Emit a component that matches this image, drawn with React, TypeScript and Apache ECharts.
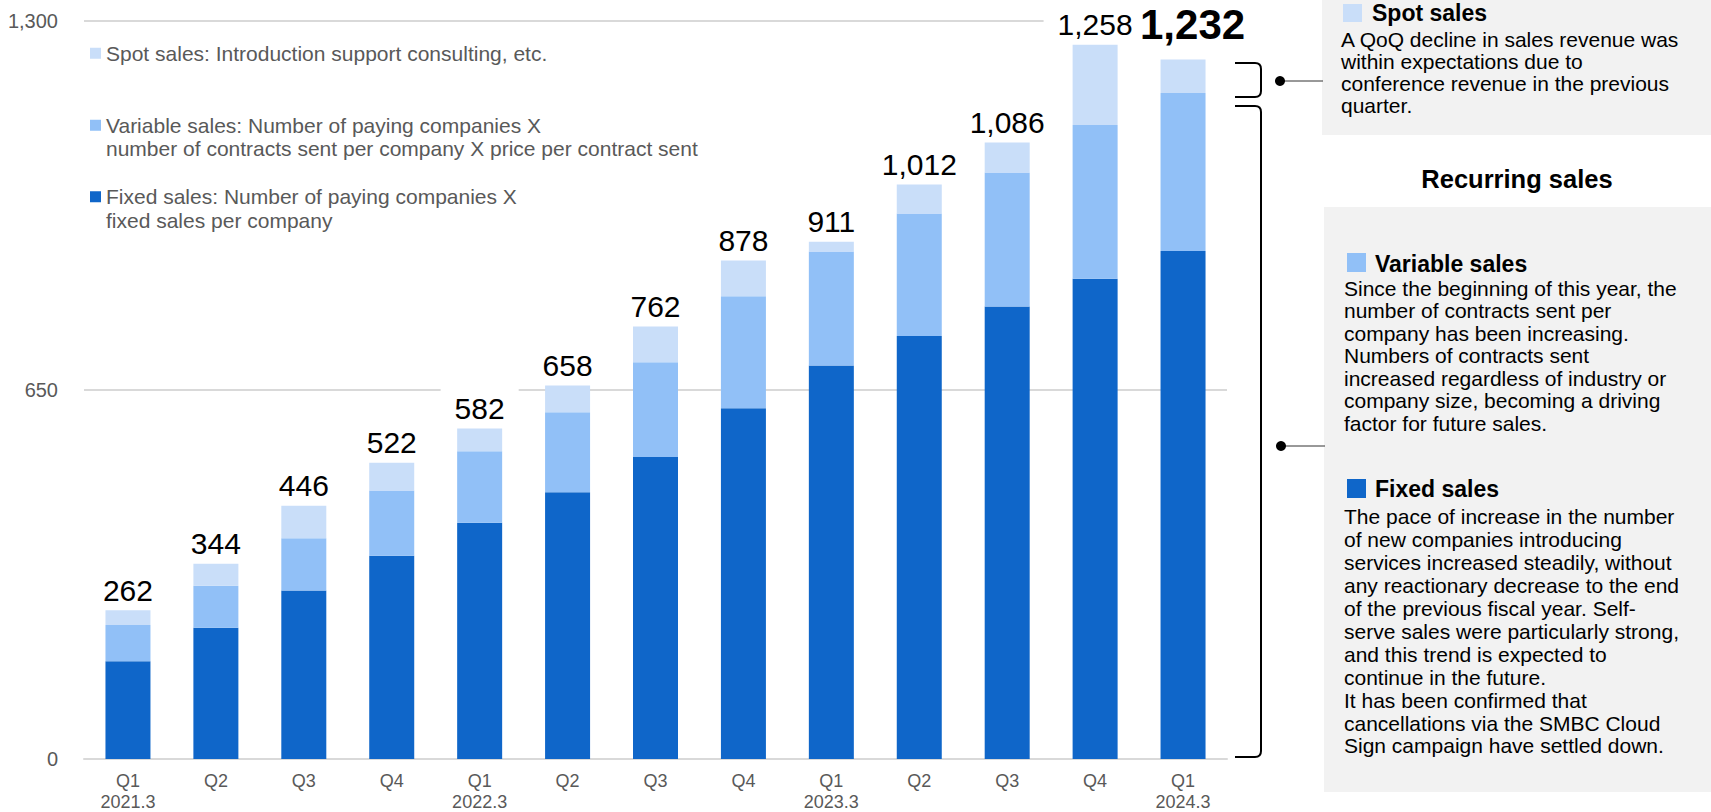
import React, { useEffect, useRef } from "react";
import * as echarts from "echarts";

const categories = ["Q1\n2021.3", "Q2", "Q3", "Q4", "Q1\n2022.3", "Q2", "Q3", "Q4", "Q1\n2023.3", "Q2", "Q3", "Q4", "Q1\n2024.3"];
const fixedSales = [172, 231, 297, 358, 416, 470, 532, 618, 693, 745, 797, 846, 895];
const variableSales = [64, 74, 92, 115, 126, 141, 167, 197, 201, 216, 236, 271, 278];
const spotSales = [26, 39, 57, 49, 40, 47, 63, 63, 17, 51, 53, 141, 59];
const totals = [262, 344, 446, 522, 582, 658, 762, 878, 911, 1012, 1086, 1258, 1232];
const yMin = 0;
const yMax = 1300;
const yInterval = 650;

const seriesNames = ["Fixed sales", "Variable sales", "Spot sales"];
const legendLines = [
  ["Spot sales: Introduction support consulting, etc."],
  ["Variable sales: Number of paying companies X", "number of contracts sent per company X price per contract sent"],
  ["Fixed sales: Number of paying companies X", "fixed sales per company"],
];
const spotNote = ["A QoQ decline in sales revenue was", "within expectations due to", "conference revenue in the previous", "quarter."];
const recurringTitle = "Recurring sales";
const variableNote = [
  "Since the beginning of this year, the",
  "number of contracts sent per",
  "company has been increasing.",
  "Numbers of contracts sent",
  "increased regardless of industry or",
  "company size, becoming a driving",
  "factor for future sales.",
];
const fixedNote = [
  "The pace of increase in the number",
  "of new companies introducing",
  "services increased steadily, without",
  "any reactionary decrease to the end",
  "of the previous fiscal year. Self-",
  "serve sales were particularly strong,",
  "and this trend is expected to",
  "continue in the future.",
  "It has been confirmed that",
  "cancellations via the SMBC Cloud",
  "Sign campaign have settled down.",
];

const C_FIXED = "#0F66C9";
const C_VAR = "#91C0F7";
const C_SPOT = "#C9DEF9";
const FONT = "'Liberation Sans', Arial, Helvetica, sans-serif";

let registered = false;
function registerShapes() {
  if (registered) return;
  registered = true;
  echarts.graphic.registerShape(
    "bracketSpot",
    echarts.graphic.extendPath("M1235,63 L1255,63 Q1261,63 1261,69 L1261,91 Q1261,97 1255,97 L1235,97", {})
  );
  echarts.graphic.registerShape(
    "bracketRecur",
    echarts.graphic.extendPath("M1235,106 L1255,106 Q1261,106 1261,112 L1261,751 Q1261,757 1255,757 L1235,757", {})
  );
}

export default function App() {
  const ref = useRef<HTMLDivElement>(null);

  useEffect(() => {
    if (!ref.current) return;
    registerShapes();
    const chart = echarts.init(ref.current, null, { renderer: "svg" });

    const labelBase = {
      show: true,
      position: "top",
      distance: 5,
      fontSize: 30,
      color: "#000",
      fontFamily: FONT,
      backgroundColor: "#fff",
      padding: [5, 14, 0, 14],
      formatter: (p: any) => totals[p.dataIndex].toLocaleString("en-US"),
    };

    const spotData = spotSales.map((v, i) =>
      i === spotSales.length - 1
        ? {
            value: v,
            label: { fontSize: 42, fontWeight: "bold", distance: 14, offset: [18, 0], padding: [5, 17, 0, 0] },
          }
        : v
    );

    const legendColors = [C_SPOT, C_VAR, C_FIXED];
    const legendTops = [41.25, 113.25, 184.75];
    const legendGraphics: any[] = [];
    legendLines.forEach((lines, i) => {
      legendGraphics.push({
        type: "rect",
        shape: { x: 90, y: legendTops[i] + 6.5, width: 11, height: 11 },
        style: { fill: legendColors[i] },
      });
      legendGraphics.push({
        type: "text",
        x: 106,
        y: legendTops[i],
        style: {
          text: lines.join("\n"),
          fill: "#595959",
          fontSize: 21,
          fontFamily: FONT,
          lineHeight: 23.5,
          verticalAlign: "top",
          align: "left",
        },
      });
    });

    const noteGraphics: any[] = [
      { type: "rect", shape: { x: 1322, y: 0, width: 389, height: 135 }, style: { fill: "#F2F2F2" } },
      { type: "rect", shape: { x: 1324, y: 207, width: 387, height: 585 }, style: { fill: "#F2F2F2" } },
      // spot heading
      { type: "rect", shape: { x: 1343, y: 4, width: 19, height: 18 }, style: { fill: C_SPOT } },
      {
        type: "text", x: 1372, y: 13,
        style: { text: seriesNames[2], fill: "#000", fontSize: 23, fontWeight: "bold", fontFamily: FONT, verticalAlign: "middle" },
      },
      {
        type: "text", x: 1341, y: 28,
        style: { text: spotNote.join("\n"), fill: "#000", fontSize: 21, fontFamily: FONT, lineHeight: 22, verticalAlign: "top" },
      },
      {
        type: "text", x: 1517, y: 179,
        style: { text: recurringTitle, fill: "#000", fontSize: 25.5, fontWeight: "bold", fontFamily: FONT, align: "center", verticalAlign: "middle" },
      },
      // variable heading
      { type: "rect", shape: { x: 1347, y: 253, width: 19, height: 19 }, style: { fill: C_VAR } },
      {
        type: "text", x: 1375, y: 263.5,
        style: { text: seriesNames[1], fill: "#000", fontSize: 23, fontWeight: "bold", fontFamily: FONT, verticalAlign: "middle" },
      },
      {
        type: "text", x: 1344, y: 276.75,
        style: { text: variableNote.join("\n"), fill: "#000", fontSize: 21, fontFamily: FONT, lineHeight: 22.5, verticalAlign: "top" },
      },
      // fixed heading
      { type: "rect", shape: { x: 1347, y: 479, width: 19, height: 19 }, style: { fill: C_FIXED } },
      {
        type: "text", x: 1375, y: 489,
        style: { text: seriesNames[0], fill: "#000", fontSize: 23, fontWeight: "bold", fontFamily: FONT, verticalAlign: "middle" },
      },
      {
        type: "text", x: 1344, y: 505.5,
        style: { text: fixedNote.join("\n"), fill: "#000", fontSize: 21, fontFamily: FONT, lineHeight: 22.9, verticalAlign: "top" },
      },
      // brackets and connectors
      { type: "bracketSpot", style: { fill: "none", stroke: "#000", lineWidth: 2 } },
      { type: "bracketRecur", style: { fill: "none", stroke: "#000", lineWidth: 2 } },
      { type: "line", shape: { x1: 1280, y1: 81, x2: 1323, y2: 81 }, style: { stroke: "#333", lineWidth: 1 } },
      { type: "circle", shape: { cx: 1280, cy: 81, r: 5 }, style: { fill: "#000" } },
      { type: "line", shape: { x1: 1281, y1: 446, x2: 1325, y2: 446 }, style: { stroke: "#333", lineWidth: 1 } },
      { type: "circle", shape: { cx: 1281, cy: 446, r: 5 }, style: { fill: "#000" } },
    ];

    chart.setOption({
      animation: false,
      backgroundColor: "#fff",
      textStyle: { fontFamily: FONT },
      grid: { left: 84, right: 484, top: 21, bottom: 52, containLabel: false },
      xAxis: {
        type: "category",
        data: categories,
        axisTick: { show: false },
        axisLine: { show: true, lineStyle: { color: "#D9D9D9", width: 2 } },
        axisLabel: { color: "#595959", fontSize: 18, fontFamily: FONT, lineHeight: 21, margin: 11, interval: 0 },
      },
      yAxis: {
        type: "value",
        min: yMin,
        max: yMax,
        interval: yInterval,
        axisLine: { show: false },
        axisTick: { show: false },
        splitLine: { lineStyle: { color: "#D9D9D9", width: 2 } },
        axisLabel: {
          color: "#595959",
          fontSize: 20,
          fontFamily: FONT,
          margin: 26,
          formatter: (v: number) => v.toLocaleString("en-US"),
        },
      },
      series: [
        { name: seriesNames[0], type: "bar", stack: "s", barWidth: 45, data: fixedSales, itemStyle: { color: C_FIXED } },
        { name: seriesNames[1], type: "bar", stack: "s", barWidth: 45, data: variableSales, itemStyle: { color: C_VAR } },
        { name: seriesNames[2], type: "bar", stack: "s", barWidth: 45, data: spotData, itemStyle: { color: C_SPOT }, label: labelBase },
      ],
      graphic: [...legendGraphics, ...noteGraphics],
    });

    return () => chart.dispose();
  }, []);

  return (
    <div
      ref={ref}
      style={{ position: "fixed", left: 0, top: 0, width: 1711, height: 812, background: "#fff" }}
    />
  );
}
